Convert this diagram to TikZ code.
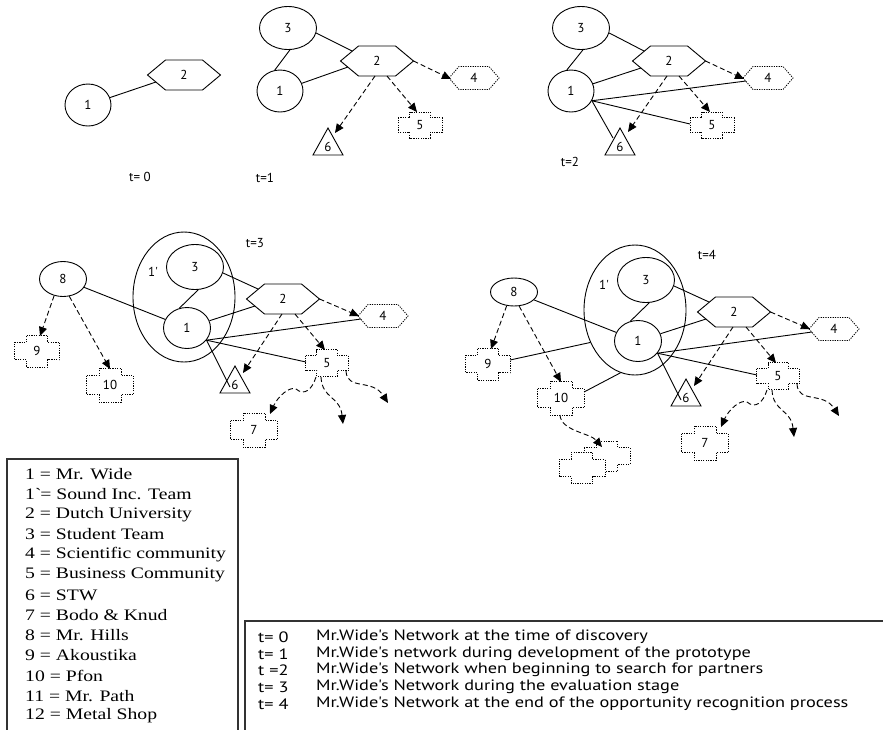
\documentclass[tikz,border=0pt]{standalone}
\usepackage{fontspec}
\newfontfamily\gf{PT Sans}
\newfontfamily\lgf{Liberation Serif}[FakeStretch=1.23]
\newfontfamily\rgf{PT Sans}[FakeStretch=1.22]
\usetikzlibrary{shapes.geometric,arrows.meta,calc}
\tikzset{
  lbl/.style={font=\gf\fontsize{13}{14}\selectfont, inner sep=0pt},
  ell/.style={draw, ellipse, inner sep=0pt, line width=0.9pt, font=\gf\fontsize{13}{14}\selectfont},
  shp/.style={line width=0.9pt},
  dotshp/.style={line width=0.8pt, dash pattern=on 1.2pt off 1.2pt},
  con/.style={line width=0.9pt},
  arr/.style={line width=0.9pt, dash pattern=on 5pt off 3pt, -{Triangle[length=9pt,width=8pt]}},
  legl/.style={anchor=west, inner sep=0pt, font=\lgf\fontsize{16}{18}\selectfont},
  legr/.style={anchor=west, inner sep=0pt, font=\rgf\fontsize{15}{16}\selectfont},
  legendbox/.style={line width=1.2pt, draw=black!80},
}
\newcommand\HexB[4]{%
  \draw[shp] ({#2-36.5},{#3}) -- ({#2-18.5},{#3-15}) -- ({#2+18.5},{#3-15}) -- ({#2+36.5},{#3}) -- ({#2+18.5},{#3+15}) -- ({#2-18.5},{#3+15}) -- cycle;
  \node[lbl] (#1) at ({#2},{#3}) {#4};}
\newcommand\HexS[4]{%
  \draw[dotshp] ({#2-25},{#3}) -- ({#2-15},{#3-11.5}) -- ({#2+15},{#3-11.5}) -- ({#2+25},{#3}) -- ({#2+15},{#3+11.5}) -- ({#2-15},{#3+11.5}) -- cycle;
  \node[lbl] (#1) at ({#2},{#3}) {#4};}
\newcommand\Crs[7]{%
  \draw[dotshp,#7] ({#2-#5},{#3-0.55*#6}) -- ({#2-0.47*#5},{#3-0.55*#6}) -- ({#2-0.47*#5},{#3-#6}) -- ({#2+0.47*#5},{#3-#6}) -- ({#2+0.47*#5},{#3-0.55*#6}) -- ({#2+#5},{#3-0.55*#6}) -- ({#2+#5},{#3+0.55*#6}) -- ({#2+0.47*#5},{#3+0.55*#6}) -- ({#2+0.47*#5},{#3+#6}) -- ({#2-0.47*#5},{#3+#6}) -- ({#2-0.47*#5},{#3+0.55*#6}) -- ({#2-#5},{#3+0.55*#6}) -- cycle;
  \node[lbl] (#1) at ({#2},{#3}) {#4};}
\newcommand\Tri[4]{%
  \draw[shp] ({#2-15},{#3+8}) -- ({#2},{#3-19}) -- ({#2+15},{#3+8}) -- cycle;
  \node[lbl] (#1) at ({#2},{#3}) {#4};}
\newcommand\PanelT[4]{%
  \node[ell, minimum width=102pt, minimum height=130pt] (#1big) at ({#2+184},{#3+297}) {};
  \node[lbl] (#1lab) at ({#2+153},{#3+272}) {1'};
  \node[ell, minimum width=57pt, minimum height=45pt] (#1e3) at ({#2+195},{#3+267}) {3};
  \node[ell, minimum width=47pt, minimum height=41pt] (#1a1) at ({#2+187},{#3+328}) {1};
  \node[ell, minimum width=47pt, minimum height=#4pt] (#1e8) at ({#2+63},{#3+279}) {8};
  \HexB{#1h2}{#2+283}{#3+299}{2}
  \HexS{#1h4}{#2+383}{#3+316}{4}
  \Crs{#1c5}{#2+327}{#3+363}{5}{21.5}{13.5}{}
  \Tri{#1t6}{#2+235}{#3+385}{6}
  \Crs{#1c9}{#2+37}{#3+351}{9}{22.5}{16}{}
  \Crs{#1c10}{#2+110}{#3+385}{10}{23.5}{17}{}
  \Crs{#1c7}{#2+254}{#3+430}{7}{23.5}{17}{}
  \coordinate (#1f1) at ({#2+343},{#3+424});
  \coordinate (#1f2) at ({#2+388},{#3+403});
  \draw[con] (#1e8) -- (#1a1);
  \draw[con] (#1e3.-82) -- (#1a1.111);
  \draw[con] (#1e3.-12) -- ($(#1h2)+(-25,-10)$);
  \draw[con] (#1a1) -- ($(#1h2)+(-28,7)$);
  \draw[con] (#1a1.-32) -- ($(#1h4)+(-22,3)$);
  \draw[con] (#1a1.-32) -- ($(#1c5)+(-21,-1)$);
  \draw[con] (#1a1.-32) -- ($(#1t6)+(-5,2)$);
  \draw[arr] (#1e8.-118) -- ($(#1c9)+(3,-15)$);
  \draw[arr] (#1e8.-70) -- ($(#1c10)+(0,-16)$);
  \draw[arr] ($(#1h2)+(36.5,0)$) -- ($(#1h4)+(-24,0)$);
  \draw[arr] ($(#1h2)+(12,15)$) -- ($(#1c5)+(-2,-13)$);
  \draw[arr] ($(#1h2)+(-1,15)$) -- ($(#1t6)+(8,-12)$);
  \draw[arr] ($(#1c5)+(-11,14)$) .. controls +(-4,13) and +(8,7) .. ($(#1c5)+(-31,26)$) .. controls +(-6,-3) and +(8,-18) .. ($(#1c7)+(16,-16)$);
  \draw[arr] ($(#1c5)+(-6,14)$) .. controls +(1,22) and +(-3,-28) .. (#1f1);
  \draw[arr] ($(#1c5)+(19,8)$) .. controls +(1,20) and +(-16,-25) .. (#1f2);
}
\begin{document}
\begin{tikzpicture}[x=1pt,y=-1pt]
\useasboundingbox (0,0) rectangle (883,729);
\fill[white] (0,0) rectangle (883,729);
% ---------- t=0
\node[ell, minimum width=46pt, minimum height=42pt] (p0a1) at (88,105) {1};
\HexB{p0h2}{184}{75}{2}
\draw[con] (p0a1) -- ($(p0h2)+(-28,7)$);
\node[lbl] (p0t) at (140,177) {t= 0};
% ---------- t=1
\node[ell, minimum width=57pt, minimum height=43pt] (p1e3) at (288,28) {3};
\node[ell, minimum width=46pt, minimum height=42pt] (p1a1) at (280,91) {1};
\HexB{p1h2}{377}{61}{2}
\HexS{p1h4}{474}{78}{4}
\Crs{p1c5}{420}{125}{5}{22}{13}{}
\Tri{p1t6}{328}{147}{6}
\draw[con] (p1e3.-85) -- (p1a1.104);
\draw[con] (p1e3.-10) -- ($(p1h2)+(-25,-10)$);
\draw[con] (p1a1) -- ($(p1h2)+(-29,6)$);
\draw[arr] ($(p1h2)+(36.5,0)$) -- ($(p1h4)+(-23,1)$);
\draw[arr] ($(p1h2)+(10,15)$) -- ($(p1c5)+(-3,-13)$);
\draw[arr] ($(p1h2)+(-2,15)$) -- ($(p1t6)+(7,-14)$);
\node[lbl] (p1t) at (265,178) {t=1};
% ---------- t=2
\node[ell, minimum width=57pt, minimum height=43pt] (p2e3) at (581,28) {3};
\node[ell, minimum width=46pt, minimum height=42pt] (p2a1) at (571,91) {1};
\HexB{p2h2}{669}{61}{2}
\HexS{p2h4}{768}{78}{4}
\Crs{p2c5}{712}{125}{5}{22}{13}{}
\Tri{p2t6}{620}{147}{6}
\draw[con] (p2e3.-85) -- (p2a1.101);
\draw[con] (p2e3.-10) -- ($(p2h2)+(-25,-10)$);
\draw[con] (p2a1) -- ($(p2h2)+(-28,7)$);
\draw[con] (p2a1.-25) -- ($(p2h4)+(-22,3)$);
\draw[con] (p2a1.-25) -- ($(p2c5)+(-22,-1)$);
\draw[con] (p2a1.-25) -- ($(p2t6)+(-7,-9)$);
\draw[arr] ($(p2h2)+(36.5,0)$) -- ($(p2h4)+(-24,1)$);
\draw[arr] ($(p2h2)+(10,15)$) -- ($(p2c5)+(-2,-13)$);
\draw[arr] ($(p2h2)+(-2,15)$) -- ($(p2t6)+(8,-15)$);
\node[lbl] (p2t) at (570,162) {t=2};
% ---------- t=3
\PanelT{p3}{0}{0}{35}
\node[lbl] (p3t) at (255,243) {t=3};
% ---------- t=4
\PanelT{p4}{451}{13}{28}
\node[lbl] (p4t) at (707,255) {t=4};
\Crs{p4c11}{607}{456}{}{23}{15}{}
\Crs{p4c12}{582}{468}{}{23}{15.5}{fill=white}
\draw[con] ($(p4c9)+(22,-4)$) -- (p4big.216);
\draw[con] ($(p4c10)+(23,-6)$) -- (p4big.257);
\draw[arr] ($(p4c10)+(-1,17)$) .. controls +(1,16) and +(-12,-14) .. ($(p4c11)+(-5,-9)$);
% ---------- legend left
\draw[legendbox] (7,459) rectangle (238,745);
\node[legl] (lg1) at (25,474) {1 = Mr. Wide};
\node[legl] (lg2) at (25,494.2) {1\textasciigrave= Sound Inc. Team};
\node[legl] (lg3) at (25,514.3) {2 = Dutch University};
\node[legl] (lg4) at (25,534.5) {3 = Student Team};
\node[legl] (lg5) at (25,554.7) {4 = Scientific community};
\node[legl] (lg6) at (25,574.8) {5 = Business Community};
\node[legl] (lg7) at (25,595) {6 = STW};
\node[legl] (lg8) at (25,615.2) {7 = Bodo \& Knud};
\node[legl] (lg9) at (25,635.3) {8 = Mr. Hills};
\node[legl] (lg10) at (25,655.5) {9 = Akoustika};
\node[legl] (lg11) at (25,675.7) {10 = Pfon};
\node[legl] (lg12) at (25,695.8) {11 = Mr. Path};
\node[legl] (lg13) at (25,716) {12 = Metal Shop};
% ---------- legend right
\draw[legendbox] (245,621) rectangle (895,745);
\node[legr] (tl0) at (258,637) {t= 0};
\node[legr] (tl1) at (258,654) {t= 1};
\node[legr] (tl2) at (258,670) {t =2};
\node[legr] (tl3) at (258,687) {t= 3};
\node[legr] (tl4) at (258,704) {t= 4};
\node[legr] (td0) at (316,637) {Mr.Wide's Network at the time of discovery};
\node[legr] (td1) at (316,654) {Mr.Wide's network during development of the prototype};
\node[legr] (td2) at (316,670) {Mr.Wide's Network when beginning to search for partners};
\node[legr] (td3) at (316,687) {Mr.Wide's Network during the evaluation stage};
\node[legr] (td4) at (316,704) {Mr.Wide's Network at the end of the opportunity recognition process};
\end{tikzpicture}
\end{document}
